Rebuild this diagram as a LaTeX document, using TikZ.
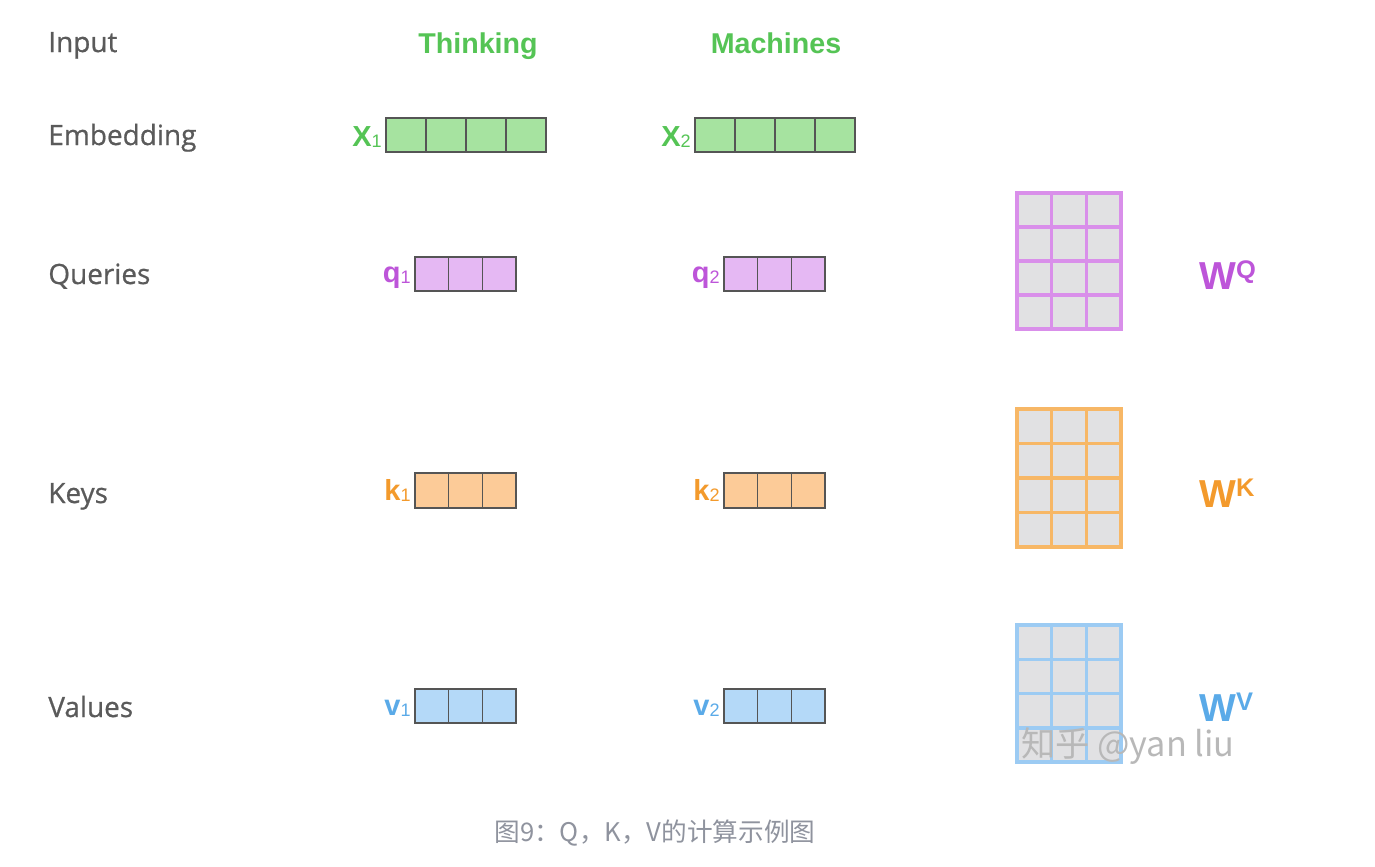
\documentclass[tikz,border=0pt]{standalone}
\usepackage{fontspec}
\setmainfont{Liberation Sans}
\newfontfamily\labelfont[FakeBold=0.7]{Open Sans}
\newfontfamily\cjkfont{Noto Sans CJK SC}
\definecolor{labelgray}{HTML}{5A5A5A}
\definecolor{edgegray}{HTML}{555555}
\definecolor{cellgray}{HTML}{E1E1E3}
\definecolor{wordgreen}{HTML}{55C455}
\definecolor{embfill}{HTML}{A6E3A0}
\definecolor{qtext}{HTML}{BD55D9}
\definecolor{qfill}{HTML}{E5B8F3}
\definecolor{qedge}{HTML}{D98FEA}
\definecolor{ktext}{HTML}{F39A2C}
\definecolor{kfill}{HTML}{FCCB98}
\definecolor{kedge}{HTML}{F7B766}
\definecolor{vtext}{HTML}{5AAAE8}
\definecolor{vfill}{HTML}{B4D9F8}
\definecolor{vedge}{HTML}{9CCBF3}
\definecolor{captiongray}{HTML}{8F939E}

\newcommand{\subone}[1]{\raisebox{-1.1pt}{\mdseries\fontsize{10.3}{12}\selectfont #1}}
\newcommand{\supmat}[1]{\raisebox{5.7pt}{\fontsize{14.5}{16}\selectfont #1}}

\begin{document}
\begin{tikzpicture}[x=0.02cm, y=-0.02cm,
  rowlabel/.style={anchor=base west, inner sep=0pt, text=labelgray,
    font=\labelfont\fontsize{15.9}{18}\selectfont},
  wordlabel/.style={anchor=base, inner sep=0pt, text=wordgreen,
    font=\bfseries\fontsize{16.3}{19}\selectfont},
  veclabel/.style={anchor=base east, inner sep=0pt,
    font=\bfseries\fontsize{16.5}{19}\selectfont},
  matlabel/.style={anchor=base west, inner sep=0pt,
    font=\bfseries\fontsize{22.2}{26}\selectfont},
  veccell/.style={draw=edgegray, line width=0.8pt},
  matline/.style={line width=2pt}]
  \useasboundingbox (0, 0) rectangle (1375, 866);

  % row labels
  \node[rowlabel] (input) at (48, 52) {Input};
  \node[rowlabel] (embedding) at (48, 145) {Embedding};
  \node[rowlabel] (queries) at (48, 284) {Queries};
  \node[rowlabel] (keys) at (48, 503) {Keys};
  \node[rowlabel] (values) at (48, 717) {Values};

  % words
  \node[wordlabel] (thinking) at (478, 53) {Thinking};
  \node[wordlabel] (machines) at (776, 53) {Machines};

  % embeddings
  \foreach \x/\i in {386/1, 695/2} {
    \foreach \c in {0,...,3}
      \draw[veccell, fill=embfill] (\x+40*\c, 118) rectangle ++(40, 34);
    \node[veclabel, text=wordgreen] (x\i) at (\x-4, 146) {X\subone{\i}};
  }

  % queries, keys, values
  \foreach \x/\i in {415/1, 724/2} {
    \foreach \c in {0,...,2} {
      \draw[veccell, fill=qfill] (\x+33.7*\c, 257) rectangle ++(33.7, 34);
      \draw[veccell, fill=kfill] (\x+33.7*\c, 473) rectangle ++(33.7, 35);
      \draw[veccell, fill=vfill] (\x+33.7*\c, 689) rectangle ++(33.7, 34);
    }
    \node[veclabel, text=qtext] (q\i) at (\x-4, 282) {q\subone{\i}};
    \node[veclabel, text=ktext] (k\i) at (\x-4, 500) {k\subone{\i}};
    \node[veclabel, text=vtext] (v\i) at (\x-4, 715) {v\subone{\i}};
  }

  % weight matrices
  \foreach \y/\h/\col in {193/136/qedge, 409/138/kedge, 625/137/vedge} {
    \fill[cellgray] (1017, \y) rectangle ++(104, \h);
    \foreach \c in {1, 2}
      \draw[matline, \col] (1017+104*\c/3, \y) -- ++(0, \h);
    \foreach \r in {1, 2, 3}
      \draw[matline, \col] (1017, \y+\h*\r/4) -- ++(104, 0);
    \draw[matline, \col] (1017, \y) rectangle ++(104, \h);
  }
  \node[matlabel, text=qtext] (wq) at (1199, 289) {W\supmat{Q}};
  \node[matlabel, text=ktext] (wk) at (1199, 507) {W\supmat{K}};
  \node[matlabel, text=vtext] (wv) at (1199, 721) {W\supmat{V}};

  % watermark and caption
  \node[inner sep=0pt, text=black!28, font=\cjkfont\fontsize{19.5}{22}\selectfont]
    (mark) at (1128, 746) {知乎 @yan liu};
  \node[inner sep=0pt, text=captiongray, font=\cjkfont\fontsize{14.6}{17}\selectfont]
    (caption) at (655, 833) {图9：Q，K，V的计算示例图};
\end{tikzpicture}
\end{document}
